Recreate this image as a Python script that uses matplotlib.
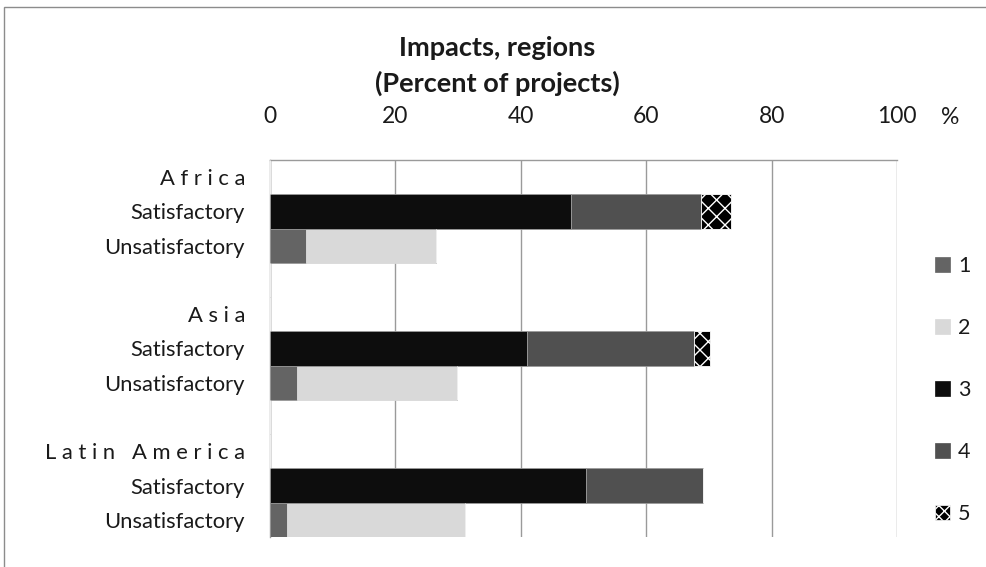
import matplotlib
matplotlib.use("Agg")
import matplotlib.pyplot as plt
from matplotlib.patches import Patch, Rectangle

plt.rcParams["font.family"] = ["Lato", "DejaVu Sans"]
plt.rcParams["hatch.linewidth"] = 1.0

# Rows from top to bottom; region header rows and spacer rows carry no bars
row_labels = ["A f r i c a", "Satisfactory", "Unsatisfactory", "",
              "A s i a", "Satisfactory", "Unsatisfactory", "",
              "L a t i n   A m e r i c a", "Satisfactory", "Unsatisfactory"]

series_names = ["1", "2", "3", "4", "5"]
s1 = [0, 0, 5.8, 0, 0, 0, 4.3, 0, 0, 0, 2.7]
s2 = [0, 0, 20.7, 0, 0, 0, 25.6, 0, 0, 0, 28.4]
s3 = [0, 48.0, 0, 0, 0, 41.0, 0, 0, 0, 50.4, 0]
s4 = [0, 20.7, 0, 0, 0, 26.7, 0, 0, 0, 18.6, 0]
s5 = [0, 4.9, 0, 0, 0, 2.4, 0, 0, 0, 0, 0]
all_series = [s1, s2, s3, s4, s5]

colors = ["#646464", "#d9d9d9", "#0d0d0d", "#505050", "#000000"]
hatches = [None, None, None, None, "xx"]
edges = ["#9a9a9a", "#d9d9d9", "#9a9a9a", "#9a9a9a", "#ffffff"]
text_color = "#1a1a1a"

W, H = 987, 567
fig = plt.figure(figsize=(W / 100, H / 100), dpi=100)

# outer chart frame
fig.patches.append(Rectangle((4 / W, -0.1), 1.2, 1 - 7 / H + 0.1,
                             transform=fig.transFigure, fill=False,
                             edgecolor="#8c8c8c", linewidth=1.0))

ax = fig.add_axes([270 / W, 1 - 537 / H, (897 - 270) / W, (537 - 160) / H])

ypos = list(range(len(row_labels)))
left = [0.0] * len(row_labels)
for name, vals, c, h, ec in zip(series_names, all_series, colors, hatches, edges):
    ax.barh(ypos, vals, left=left, height=1.0, color=c, hatch=h,
            edgecolor=ec, linewidth=0.6, label=name, zorder=3)
    left = [a + b for a, b in zip(left, vals)]

ax.set_xlim(0, 100)
ax.set_ylim(len(row_labels) - 0.5, -0.5)
ax.set_xticks([0, 20, 40, 60, 80, 100])
ax.xaxis.tick_top()
ax.tick_params(axis="x", length=0, pad=24, labelsize=16.5, colors=text_color)
ax.set_yticks(ypos)
ax.set_yticklabels(row_labels)
ax.tick_params(axis="y", length=0, pad=18, labelsize=15.8, colors=text_color)

ax.set_axisbelow(True)
ax.grid(axis="x", color="#9a9a9a", linewidth=1.0)
ax.grid(axis="y", visible=False)
for side in ["right", "bottom"]:
    ax.spines[side].set_visible(False)
for side in ["top", "left"]:
    ax.spines[side].set_color("#9a9a9a")
    ax.spines[side].set_linewidth(1.0)

fig.text(950 / W, 1 - 118 / H, "%", ha="center", va="center",
         fontsize=16.5, color=text_color)

fig.text(497 / W, 1 - 48 / H, "Impacts, regions", ha="center", va="center",
         fontsize=19.5, fontweight="bold", color=text_color)
fig.text(497 / W, 1 - 83 / H, "(Percent of projects)", ha="center", va="center",
         fontsize=19.5, fontweight="bold", color=text_color)

handles = [Patch(facecolor=c, hatch=("xxx" if h else None),
                 edgecolor=("#ffffff" if h else c), linewidth=0.5)
           for c, h in zip(colors, hatches)]
leg = fig.legend(handles, series_names, loc="center left",
                 bbox_to_anchor=(916 / W, 1 - 390 / H), frameon=False,
                 handlelength=0.7, handleheight=0.7, handletextpad=0.35,
                 labelspacing=1.95, fontsize=15.5)
for t in leg.get_texts():
    t.set_color(text_color)

fig.savefig("out.png", dpi=100)
